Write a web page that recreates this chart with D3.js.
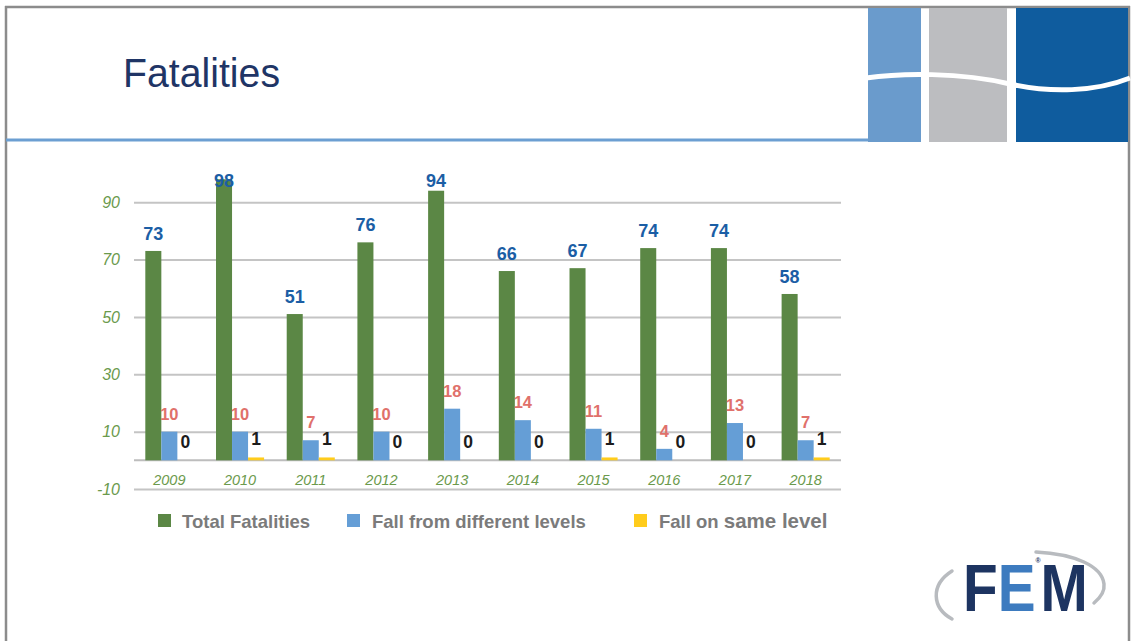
<!DOCTYPE html>
<html>
<head>
<meta charset="utf-8">
<script src="https://cdn.jsdelivr.net/npm/d3@7"></script>
<style>
  html, body { margin: 0; padding: 0; background: #ffffff; }
  svg { display: block; font-family: "Liberation Sans", Arial, sans-serif; }
</style>
</head>
<body>
<svg id="chart" width="1135" height="641"></svg>
<script>
// ---- data ----
const years = ["2009", "2010", "2011", "2012", "2013", "2014", "2015", "2016", "2017", "2018"];
const totalFatalities = [73, 98, 51, 76, 94, 66, 67, 74, 74, 58];
const fallDifferentLevels = [10, 10, 7, 10, 18, 14, 11, 4, 13, 7];
const fallSameLevel = [0, 1, 1, 0, 0, 0, 1, 0, 0, 1];
const seriesNames = ["Total Fatalities", "Fall from different levels", "Fall on same level"];
const yTickValues = [-10, 10, 30, 50, 70, 90];
const titleText = "Fatalities";

// ---- styles ----
const barColors = ["#5b8745", "#659ed6", "#ffcc1c"];
const labelColors = ["#1b5ea5", "#e0716b", "#1c1c1c"];
const labelSizes = [18, 16.5, 17.5];
const axisGreen = "#6b9a4c";

const svg = d3.select("#chart");
const seriesValues = [totalFatalities, fallDifferentLevels, fallSameLevel];

// ---- slide frame ----
const frame = svg.append("g");
frame.append("line").attr("x1", 5).attr("x2", 1130).attr("y1", 7).attr("y2", 7)
  .attr("stroke", "#8c8c8c").attr("stroke-width", 2.5);
frame.append("line").attr("x1", 6).attr("x2", 6).attr("y1", 6).attr("y2", 641)
  .attr("stroke", "#8c8c8c").attr("stroke-width", 2.5);
frame.append("line").attr("x1", 1129).attr("x2", 1129).attr("y1", 6).attr("y2", 641)
  .attr("stroke", "#8c8c8c").attr("stroke-width", 2.5);
frame.append("line").attr("x1", 6).attr("x2", 868).attr("y1", 140).attr("y2", 140)
  .attr("stroke", "#6c9fd2").attr("stroke-width", 3);

// header decoration blocks
frame.append("rect").attr("x", 868).attr("y", 8).attr("width", 53).attr("height", 134).attr("fill", "#6a9bcc");
frame.append("rect").attr("x", 929).attr("y", 8).attr("width", 78).attr("height", 134).attr("fill", "#bcbdc0");
frame.append("rect").attr("x", 1016).attr("y", 8).attr("width", 112).attr("height", 134).attr("fill", "#0f5c9e");
frame.append("path")
  .attr("d", "M866,78 C900,73 960,72 1010,84 C1050,93 1095,92 1130,78")
  .attr("fill", "none").attr("stroke", "#ffffff").attr("stroke-width", 5);

// title
svg.append("text").attr("x", 123).attr("y", 87)
  .attr("font-size", 40).attr("fill", "#1f3566")
  .attr("textLength", 157).attr("lengthAdjust", "spacingAndGlyphs")
  .text(titleText);

// ---- chart ----
const x0 = d3.scaleBand().domain(years).range([134, 841]).paddingInner(0.32).paddingOuter(0.16);
const x1 = d3.scaleBand().domain(seriesNames).range([0, x0.bandwidth()]).padding(0);
const y = d3.scaleLinear().domain([-10, 90]).range([489, 202.2]);

// gridlines + y labels
const yAxis = d3.axisLeft(y).tickValues(yTickValues).tickSize(-(841 - 134)).tickPadding(14)
  .tickFormat(d => String(d));
const gy = svg.append("g").attr("transform", "translate(134,0)").call(yAxis);
gy.select(".domain").remove();
gy.selectAll(".tick line").attr("stroke", "#c4c4c4").attr("stroke-width", 2);
gy.selectAll(".tick text").attr("fill", axisGreen).attr("font-size", 16)
  .attr("font-style", "italic").attr("font-family", "Liberation Sans, Arial, sans-serif");

// baseline at zero
svg.append("line").attr("x1", 134).attr("x2", 841).attr("y1", y(0)).attr("y2", y(0))
  .attr("stroke", "#bdbdbd").attr("stroke-width", 2);

// x labels
const xAxis = d3.axisBottom(x0).tickSize(0).tickPadding(14);
const gx = svg.append("g").attr("transform", `translate(0,${y(0)})`).call(xAxis);
gx.select(".domain").remove();
gx.selectAll(".tick text").attr("fill", axisGreen).attr("font-size", 14.5)
  .attr("font-style", "italic").attr("font-family", "Liberation Sans, Arial, sans-serif");

// bars
const groups = svg.append("g").selectAll("g").data(years).join("g")
  .attr("transform", d => `translate(${x0(d)},0)`);

seriesNames.forEach((name, si) => {
  groups.append("rect")
    .attr("x", x1(name))
    .attr("width", x1.bandwidth())
    .attr("y", (d, i) => Math.min(y(seriesValues[si][i]), y(0)))
    .attr("height", (d, i) => Math.abs(y(0) - y(seriesValues[si][i])))
    .attr("fill", barColors[si]);
});

// value labels
seriesNames.forEach((name, si) => {
  groups.append("text")
    .attr("x", x1(name) + x1.bandwidth() / 2)
    .attr("y", (d, i) => {
      const v = seriesValues[si][i];
      return si === 0 ? Math.max(y(v) - 11, 187) : y(v) - 12;
    })
    .attr("text-anchor", "middle")
    .attr("font-weight", "bold")
    .attr("font-size", labelSizes[si])
    .attr("fill", labelColors[si])
    .text((d, i) => seriesValues[si][i]);
});

// legend
const legendX = [158, 347, 634];
const leg = svg.append("g");
seriesNames.forEach((name, si) => {
  leg.append("rect").attr("x", legendX[si]).attr("y", 514).attr("width", 13).attr("height", 13)
    .attr("fill", barColors[si]);
});
leg.append("text").attr("x", 182).attr("y", 528).attr("font-size", 18.5).attr("font-weight", "bold")
  .attr("fill", "#7b7b7b").text(seriesNames[0]);
leg.append("text").attr("x", 372).attr("y", 528).attr("font-size", 18.5).attr("font-weight", "bold")
  .attr("fill", "#7b7b7b").text(seriesNames[1]);
const t3 = leg.append("text").attr("x", 659).attr("y", 528).attr("font-weight", "bold").attr("fill", "#7b7b7b");
const parts = seriesNames[2].split(" ");
t3.append("tspan").attr("font-size", 18.5).text(parts.slice(0, 2).join(" ") + " ");
t3.append("tspan").attr("font-size", 20.5).text(parts.slice(2).join(" "));

// ---- logo ----
const logo = svg.append("g");
logo.append("path").attr("d", "M952,619 C932,608 930,585 952,571")
  .attr("fill", "none").attr("stroke", "#b8bbbf").attr("stroke-width", 3.5).attr("stroke-linecap", "round");
logo.append("path").attr("d", "M1036,552 C1075,554 1102,566 1104,584 C1105,592 1100,598 1094,603")
  .attr("fill", "none").attr("stroke", "#b8bbbf").attr("stroke-width", 3.5).attr("stroke-linecap", "round");
const logoText = logo.append("text")
  .attr("transform", "translate(963,611) scale(0.86,1)")
  .attr("x", 0).attr("y", 0).attr("font-size", 66).attr("font-weight", "bold");
logoText.append("tspan").attr("fill", "#1d3461").text("F");
logoText.append("tspan").attr("fill", "#3d7bbf").text("E");
logoText.append("tspan").attr("dy", -48).attr("font-size", 8).attr("fill", "#1d3461").text("®");
logoText.append("tspan").attr("dy", 48).attr("fill", "#1d3461").text("M");
</script>
</body>
</html>
